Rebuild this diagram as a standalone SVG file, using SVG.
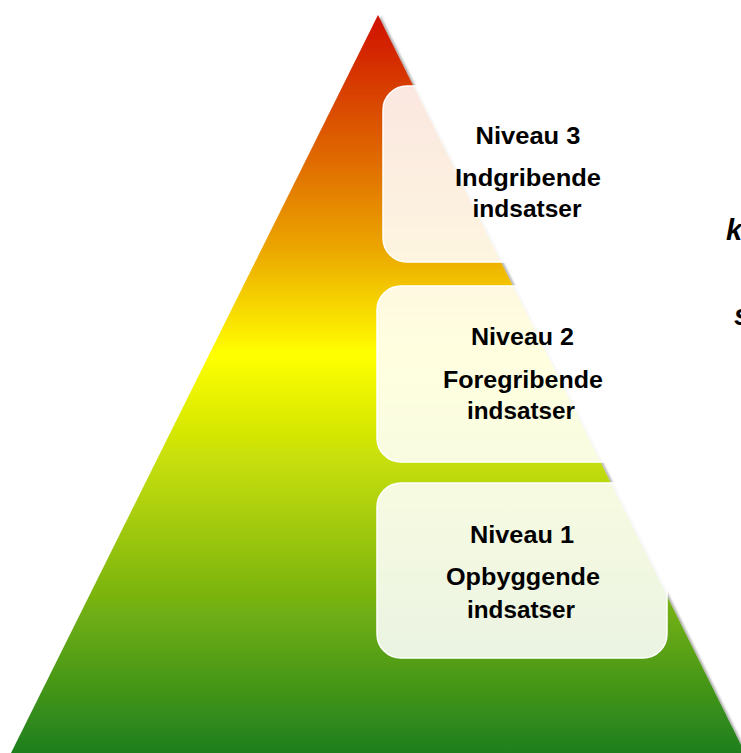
<svg xmlns="http://www.w3.org/2000/svg" width="741" height="753" viewBox="0 0 741 753">
  <defs>
    <linearGradient id="pyr" x1="0" y1="15" x2="0" y2="753" gradientUnits="userSpaceOnUse">
      <stop offset="0" stop-color="#d01000"/>
      <stop offset="0.2" stop-color="#e06c00"/>
      <stop offset="0.32" stop-color="#eca800"/>
      <stop offset="0.46" stop-color="#ffff00"/>
      <stop offset="0.65" stop-color="#b4d40a"/>
      <stop offset="0.85" stop-color="#5fa514"/>
      <stop offset="1" stop-color="#1e7f1e"/>
    </linearGradient>
    <filter id="sh" x="-10%" y="-10%" width="120%" height="120%">
      <feDropShadow dx="2.5" dy="1" stdDeviation="1.2" flood-color="#000" flood-opacity="0.35"/>
    </filter>
  </defs>
  <style>
    .box { fill: #ffffff; fill-opacity: 0.88; stroke: #ffffff; stroke-width: 1.5; }
    .t { font-family: "Liberation Sans", Arial, sans-serif; font-weight: bold; font-size: 23px; fill: #000; text-anchor: middle; }
    .side { font-family: "Liberation Sans", Arial, sans-serif; font-weight: bold; font-style: italic; font-size: 29px; fill: #000; }
  </style>
  <rect width="741" height="753" fill="#ffffff"/>
  <g id="pyramid">
    <polygon points="378,15 745,753 11,753" fill="url(#pyr)" filter="url(#sh)"/>
  </g>
  <g id="level3">
    <rect class="box" x="383" y="86" width="290" height="176" rx="24"/>
    <text class="t" x="528" y="144" textLength="105" lengthAdjust="spacingAndGlyphs">Niveau 3</text>
    <text class="t" x="528" y="186" textLength="146" lengthAdjust="spacingAndGlyphs">Indgribende</text>
    <text class="t" x="527" y="217" textLength="109" lengthAdjust="spacingAndGlyphs">indsatser</text>
  </g>
  <g id="level2">
    <rect class="box" x="377" y="286" width="290" height="176" rx="24"/>
    <text class="t" x="522.5" y="345" textLength="103" lengthAdjust="spacingAndGlyphs">Niveau 2</text>
    <text class="t" x="523" y="388" textLength="160" lengthAdjust="spacingAndGlyphs">Foregribende</text>
    <text class="t" x="521" y="419" textLength="108" lengthAdjust="spacingAndGlyphs">indsatser</text>
  </g>
  <g id="level1">
    <rect class="box" x="377" y="483" width="290" height="175" rx="24"/>
    <text class="t" x="522" y="543" textLength="104" lengthAdjust="spacingAndGlyphs">Niveau 1</text>
    <text class="t" x="523" y="585" textLength="154" lengthAdjust="spacingAndGlyphs">Opbyggende</text>
    <text class="t" x="521" y="618" textLength="108" lengthAdjust="spacingAndGlyphs">indsatser</text>
  </g>
  <g id="side-text">
    <text class="side" x="726" y="240">k</text>
    <text class="side" x="734" y="325">s</text>
  </g>
</svg>
